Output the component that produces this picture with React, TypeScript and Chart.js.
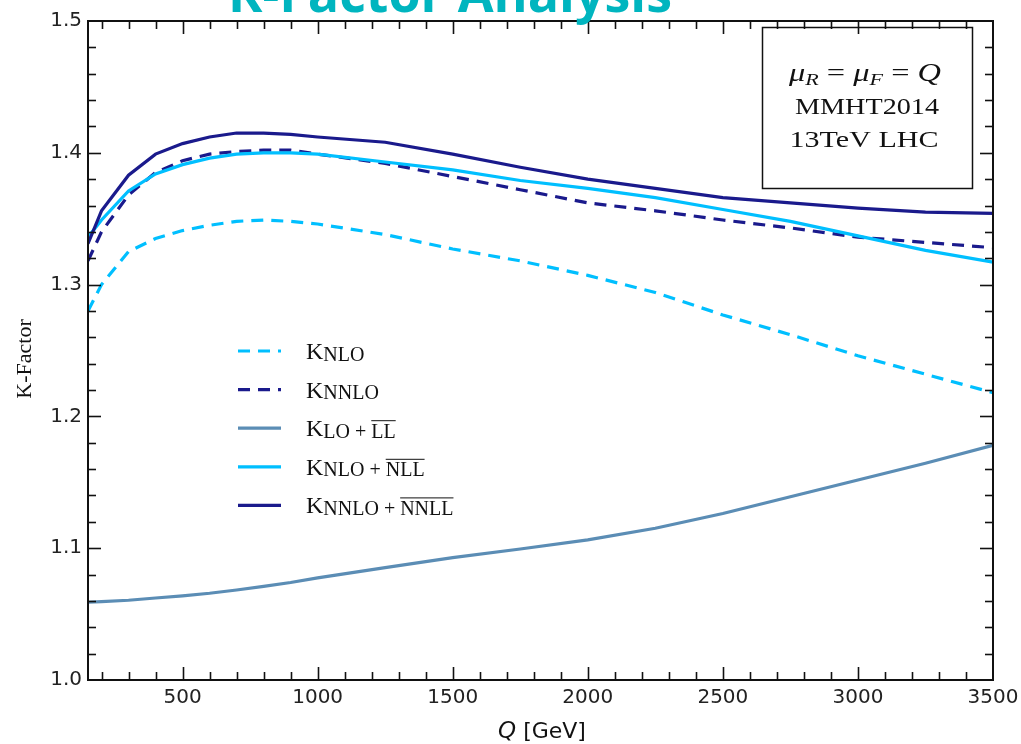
import React, { useEffect, useRef } from 'react';
import { Chart, registerables } from 'chart.js';
Chart.register(...registerables);

// ---------- data ----------
const Q_GEV = [150, 200, 300, 400, 500, 600, 700, 800, 900, 1000, 1250, 1500, 1750, 2000, 2250, 2500, 2750, 3000, 3250, 3500];
const K_NLO = [1.280, 1.300, 1.325, 1.335, 1.341, 1.345, 1.348, 1.349, 1.348, 1.346, 1.338, 1.327, 1.318, 1.307, 1.294, 1.277, 1.262, 1.246, 1.232, 1.218];
const K_NNLO = [1.318, 1.340, 1.368, 1.385, 1.394, 1.399, 1.401, 1.402, 1.402, 1.399, 1.392, 1.382, 1.372, 1.362, 1.356, 1.349, 1.343, 1.336, 1.332, 1.328];
const K_LO_LL = [1.059, 1.0595, 1.0605, 1.0622, 1.0638, 1.0658, 1.0683, 1.071, 1.074, 1.0775, 1.0852, 1.0929, 1.0994, 1.1063, 1.1151, 1.1263, 1.139, 1.1518, 1.1645, 1.178];
const K_NLO_NLL = [1.336, 1.349, 1.371, 1.384, 1.391, 1.396, 1.399, 1.400, 1.400, 1.399, 1.393, 1.387, 1.379, 1.373, 1.366, 1.357, 1.348, 1.337, 1.326, 1.317];
const K_NNLO_NNLL = [1.331, 1.356, 1.383, 1.399, 1.407, 1.412, 1.415, 1.415, 1.414, 1.412, 1.408, 1.399, 1.389, 1.380, 1.373, 1.366, 1.362, 1.358, 1.355, 1.354];

const X_MAJOR_TICKS = [500, 1000, 1500, 2000, 2500, 3000, 3500];
const Y_MAJOR_TICKS = [1.0, 1.1, 1.2, 1.3, 1.4, 1.5];
const X_RANGE = [150, 3500];
const Y_RANGE = [1.0, 1.5];
const X_MINOR_STEP = 100;
const Y_MINOR_STEP = 0.02;

const TITLE = 'K-Factor Analysis';
const Y_TITLE = 'K-Factor';
const X_TITLE_VAR = 'Q';
const X_TITLE_UNIT = ' [GeV]';
const ANNOT_LINES = ['MMHT2014', '13TeV LHC'];

const LEGEND_SUB = ['NLO', 'NNLO', 'LO', 'NLO', 'NNLO'];
const LEGEND_OVER = ['', '', 'LL', 'NLL', 'NNLL'];

// ---------- styles ----------
const C_LIGHT = '#00bfff';
const C_DARK = '#1a1a8c';
const C_STEEL = '#5b8db5';
const DASH = [12, 8];
const SERIF = '"Liberation Serif", "Times New Roman", serif';
const SANS = '"DejaVu Sans", sans-serif';

const SERIES = [
  { data: K_NLO, color: C_LIGHT, dash: DASH },
  { data: K_NNLO, color: C_DARK, dash: DASH },
  { data: K_LO_LL, color: C_STEEL, dash: [] as number[] },
  { data: K_NLO_NLL, color: C_LIGHT, dash: [] as number[] },
  { data: K_NNLO_NNLL, color: C_DARK, dash: [] as number[] },
];

function drawStretched(ctx: CanvasRenderingContext2D, parts: { t: string; font: string; dy: number }[], cx: number, baseline: number, targetW: number) {
  let total = 0;
  const widths = parts.map(p => { ctx.font = p.font; const w = ctx.measureText(p.t).width; total += w; return w; });
  const s = targetW / total;
  ctx.save();
  ctx.translate(cx - targetW / 2, baseline);
  ctx.scale(s, 1);
  let x = 0;
  parts.forEach((p, i) => { ctx.font = p.font; ctx.fillText(p.t, x, p.dy); x += widths[i]; });
  ctx.restore();
}

const decoPlugin = {
  id: 'deco',
  afterDraw(chart: any) {
    const ctx: CanvasRenderingContext2D = chart.ctx;
    const { left, right, top, bottom } = chart.chartArea;
    const xs = chart.scales.x, ys = chart.scales.y;
    ctx.save();
    ctx.setLineDash([]);
    ctx.strokeStyle = '#111';
    // ticks
    ctx.lineWidth = 1.6;
    const tick = (x1: number, y1: number, x2: number, y2: number) => { ctx.beginPath(); ctx.moveTo(x1, y1); ctx.lineTo(x2, y2); ctx.stroke(); };
    for (let v = 200; v <= 3400.5; v += X_MINOR_STEP) {
      const major = X_MAJOR_TICKS.some(m => Math.abs(m - v) < 1e-6);
      const L = major ? 13 : 8;
      const px = Math.round(xs.getPixelForValue(v)) + 0.5;
      tick(px, bottom, px, bottom - L);
      tick(px, top, px, top + L);
    }
    for (let v = Y_RANGE[0] + Y_MINOR_STEP; v < Y_RANGE[1] - 1e-6; v += Y_MINOR_STEP) {
      const major = Y_MAJOR_TICKS.some(m => Math.abs(m - v) < 1e-6);
      const L = major ? 13 : 8;
      const py = Math.round(ys.getPixelForValue(v)) + 0.5;
      tick(left, py, left + L, py);
      tick(right, py, right - L, py);
    }
    // border
    ctx.lineWidth = 2;
    ctx.strokeRect(left, top, right - left, bottom - top);

    // annotation box
    ctx.lineWidth = 1.5;
    ctx.strokeRect(762.5, 27.5, 210, 161);
    ctx.fillStyle = '#111';
    ctx.textBaseline = 'alphabetic';
    const it = `italic 25px ${SERIF}`, itS = `italic 17px ${SERIF}`, rg = `25px ${SERIF}`;
    drawStretched(ctx, [
      { t: 'μ', font: it, dy: 0 }, { t: 'R', font: itS, dy: 4 }, { t: ' = ', font: rg, dy: 0 },
      { t: 'μ', font: it, dy: 0 }, { t: 'F', font: itS, dy: 4 }, { t: ' = ', font: rg, dy: 0 },
      { t: 'Q', font: it, dy: 0 },
    ], 865, 81, 152);
    drawStretched(ctx, [{ t: ANNOT_LINES[0], font: `24px ${SERIF}`, dy: 0 }], 867, 114, 144);
    drawStretched(ctx, [{ t: ANNOT_LINES[1], font: `24px ${SERIF}`, dy: 0 }], 864, 147, 149);

    // legend
    const lx0 = 238, lx1 = 281, tx = 306, ly0 = 351, ldy = 38.6;
    SERIES.forEach((s, i) => {
      const y = ly0 + i * ldy;
      ctx.strokeStyle = s.color; ctx.lineWidth = 3.2; ctx.setLineDash(s.dash);
      ctx.beginPath(); ctx.moveTo(lx0, y); ctx.lineTo(lx1, y); ctx.stroke();
      ctx.setLineDash([]);
      ctx.fillStyle = '#111';
      ctx.font = `24px ${SERIF}`;
      ctx.fillText('K', tx, y + 8);
      let x = tx + ctx.measureText('K').width;
      ctx.font = `20px ${SERIF}`;
      const sb = y + 9.5;
      ctx.fillText(LEGEND_SUB[i], x, sb);
      x += ctx.measureText(LEGEND_SUB[i]).width;
      if (LEGEND_OVER[i]) {
        ctx.fillText(' + ', x, sb);
        x += ctx.measureText(' + ').width;
        ctx.fillText(LEGEND_OVER[i], x, sb);
        const w = ctx.measureText(LEGEND_OVER[i]).width;
        ctx.strokeStyle = '#111'; ctx.lineWidth = 1;
        ctx.beginPath(); ctx.moveTo(x, sb - 17); ctx.lineTo(x + w, sb - 17); ctx.stroke();
      }
    });

    // axis titles
    ctx.fillStyle = '#111';
    ctx.save();
    ctx.translate(31, 359);
    ctx.rotate(-Math.PI / 2);
    ctx.font = `22px ${SERIF}`;
    ctx.textAlign = 'center';
    ctx.fillText(Y_TITLE, 0, 0);
    ctx.restore();

    ctx.font = `italic 23px ${SANS}`;
    const wq = ctx.measureText(X_TITLE_VAR).width;
    ctx.font = `22px ${SANS}`;
    const wu = ctx.measureText(X_TITLE_UNIT).width;
    const xStart = 542 - (wq + wu) / 2;
    ctx.font = `italic 23px ${SANS}`;
    ctx.fillText(X_TITLE_VAR, xStart, 738);
    ctx.font = `22px ${SANS}`;
    ctx.fillText(X_TITLE_UNIT, xStart + wq, 738);

    // title (partially cut at the top)
    ctx.fillStyle = '#00b5bf';
    ctx.font = `bold 44px "Open Sans", sans-serif`;
    const tw = ctx.measureText(TITLE).width;
    const fs = 44 * 444 / tw;
    ctx.font = `bold ${fs.toFixed(2)}px "Open Sans", sans-serif`;
    ctx.textAlign = 'center';
    ctx.fillText(TITLE, 450, 12);
    ctx.restore();
  },
};

export default function App() {
  const ref = useRef<HTMLCanvasElement>(null);
  useEffect(() => {
    document.body.style.margin = '0';
    const chart = new Chart(ref.current as HTMLCanvasElement, {
      type: 'line',
      data: {
        datasets: SERIES.map((s, i) => ({
          data: Q_GEV.map((q, j) => ({ x: q, y: s.data[j] })),
          borderColor: s.color,
          borderWidth: 3.2,
          borderDash: s.dash,
          pointRadius: 0,
          tension: 0,
          fill: false,
          order: SERIES.length - i,
        })),
      },
      options: {
        animation: false,
        responsive: false,
        devicePixelRatio: 1,
        layout: { padding: { top: 21, right: 28, left: 0, bottom: 0 } },
        plugins: { legend: { display: false }, tooltip: { enabled: false }, title: { display: false } },
        scales: {
          x: {
            type: 'linear',
            min: X_RANGE[0],
            max: X_RANGE[1],
            afterBuildTicks: (s: any) => { s.ticks = X_MAJOR_TICKS.map(v => ({ value: v })); },
            afterFit: (s: any) => { s.height = 64; s.paddingLeft = 0; s.paddingRight = 0; },
            grid: { display: false, drawTicks: false },
            border: { display: false },
            ticks: { padding: 6, color: '#222', font: { family: 'DejaVu Sans', size: 20 }, maxRotation: 0, autoSkip: false, callback: (v: any) => String(v) },
          },
          y: {
            type: 'linear',
            min: Y_RANGE[0],
            max: Y_RANGE[1],
            afterBuildTicks: (s: any) => { s.ticks = Y_MAJOR_TICKS.map(v => ({ value: v })); },
            afterFit: (s: any) => { s.width = 88; s.paddingTop = 0; s.paddingBottom = 0; },
            grid: { display: false, drawTicks: false },
            border: { display: false },
            ticks: { padding: 6, color: '#222', font: { family: 'DejaVu Sans', size: 20 }, autoSkip: false, callback: (v: any) => Number(v).toFixed(1) },
          },
        },
      },
      plugins: [decoPlugin],
    } as any);
    return () => chart.destroy();
  }, []);
  return (
    <div style={{ position: 'absolute', left: 0, top: 0, width: 1021, height: 744, background: '#fff' }}>
      <canvas ref={ref} width={1021} height={744} style={{ display: 'block', width: 1021, height: 744 }} />
    </div>
  );
}
